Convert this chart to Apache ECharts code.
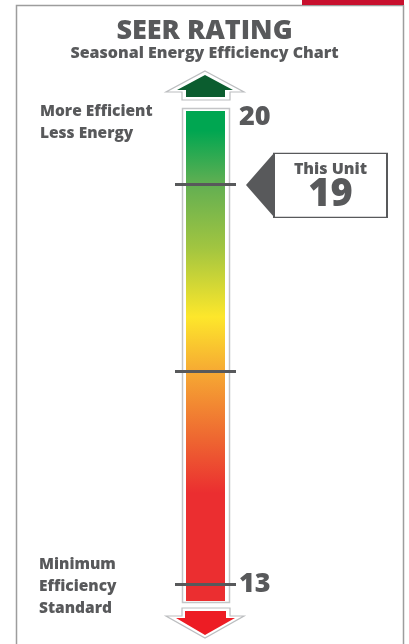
<!DOCTYPE html>
<html>
<head>
<meta charset="utf-8">
<script src="https://cdn.jsdelivr.net/npm/echarts@6/dist/echarts.min.js"></script>
<style>
  html, body { margin: 0; padding: 0; background: #fff; }
  #chart { width: 409px; height: 644px; }
</style>
</head>
<body>
<div id="chart"></div>
<script>
// scale of the meter
var scaleMin = 12.75;
var scaleMax = 20.1;
var categories = ['SEER'];
var barValues = [20.1];
var tickValues = [19, 16.2, 13];
var labelValues = [13, 20];
var unitRating = [19];

var gray = '#58595b';
var font = '"Open Sans", "Noto Sans", sans-serif';
var heavy = 800;

var myChart = echarts.init(document.getElementById('chart'));

var option = {
    backgroundColor: '#fff',
    animation: false,
    title: {
        text: 'SEER RATING',
        subtext: 'Seasonal Energy Efficiency Chart',
        left: 'center',
        top: 13,
        itemGap: 0,
        textStyle: { color: gray, fontSize: 27, fontWeight: heavy, fontFamily: font },
        subtextStyle: { color: gray, fontSize: 16, fontWeight: heavy, fontFamily: font }
    },
    grid: { left: 175, right: 173, top: 111, bottom: 43 },
    xAxis: {
        type: 'category',
        data: categories,
        show: false
    },
    yAxis: {
        type: 'value',
        position: 'right',
        min: scaleMin,
        max: scaleMax,
        startValue: scaleMin,
        axisLine: { show: false },
        axisTick: { show: false },
        splitLine: { show: false },
        axisLabel: {
            customValues: labelValues,
            margin: 3,
            color: gray,
            fontSize: 27,
            fontWeight: heavy,
            fontFamily: font
        }
    },
    graphic: [
        // frame + red tab
        { type: 'rect', z: -10, shape: { x: 16.5, y: 5.5, width: 387, height: 700 },
          style: { fill: 'none', stroke: '#9d9d9d', lineWidth: 1.5 } },
        { type: 'rect', z: -9, shape: { x: 302, y: 0, width: 102, height: 5 },
          style: { fill: '#c8102e' } },
        // outline round the bar
        { type: 'rect', z: -5, shape: { x: 182.5, y: 108.5, width: 47, height: 494 },
          style: { fill: '#fff', stroke: '#c4c5c7', lineWidth: 1.5 } },
        // up arrow
        { type: 'polygon', shape: { points: [[205,71],[244,92],[230,92],[230,100],[182,100],[182,92],[166,92]] },
          style: { fill: '#fff', stroke: '#bcbec0', lineWidth: 1.2 } },
        { type: 'polygon', shape: { points: [[205,75],[233,90],[225,90],[225,97],[186,97],[186,90],[177,90]] },
          style: { fill: '#0b5d2f' } },
        // down arrow
        { type: 'polygon', shape: { points: [[182,608],[230,608],[230,616],[244,616],[205,638],[166,616],[182,616]] },
          style: { fill: '#fff', stroke: '#bcbec0', lineWidth: 1.2 } },
        { type: 'polygon', shape: { points: [[185,611],[226,611],[226,618],[235,618],[205,635],[176,618],[185,618]] },
          style: { fill: '#ed1c24' } },
        // side notes
        { type: 'text', left: 40, top: 101,
          style: { text: 'More Efficient\nLess Energy', fill: gray, font: heavy + ' 15.5px ' + font, lineHeight: 22 } },
        { type: 'text', left: 39, top: 554,
          style: { text: 'Minimum\nEfficiency\nStandard', fill: gray, font: heavy + ' 15.5px ' + font, lineHeight: 22 } }
    ],
    series: [
        {
            type: 'bar',
            data: barValues,
            barWidth: 39,
            silent: true,
            itemStyle: {
                color: new echarts.graphic.LinearGradient(0, 0, 0, 1, [
                    { offset: 0, color: '#00a651' },
                    { offset: 0.04, color: '#00a651' },
                    { offset: 0.15, color: '#62af52' },
                    { offset: 0.28, color: '#a2c540' },
                    { offset: 0.42, color: '#fde72b' },
                    { offset: 0.53, color: '#f6aa33' },
                    { offset: 0.67, color: '#ee6631' },
                    { offset: 0.78, color: '#eb2e30' },
                    { offset: 1, color: '#eb2e30' }
                ])
            },
            markLine: {
                silent: true,
                symbol: 'none',
                label: { show: false },
                lineStyle: { color: gray, width: 3, type: 'solid' },
                data: tickValues.map(function (v) { return { yAxis: v }; })
            },
            markPoint: {
                silent: true,
                data: [
                    {
                        coord: [0, unitRating[0]],
                        symbol: 'triangle',
                        symbolSize: [64, 28],
                        symbolRotate: 90,
                        symbolOffset: [54.5, 0.7],
                        itemStyle: { color: gray },
                        label: { show: false }
                    },
                    {
                        coord: [0, unitRating[0]],
                        value: unitRating[0],
                        symbol: 'rect',
                        symbolSize: [113, 64],
                        symbolOffset: [125, 1],
                        itemStyle: { color: '#fff', borderColor: gray, borderWidth: 1.5 },
                        label: {
                            show: true,
                            position: 'inside',
                            formatter: function (p) { return '{a|This Unit}\n{b|' + p.value + '}'; },
                            rich: {
                                a: { color: gray, fontSize: 16, fontWeight: heavy, fontFamily: font, lineHeight: 20 },
                                b: { color: gray, fontSize: 38, fontWeight: heavy, fontFamily: font, lineHeight: 32 }
                            }
                        }
                    }
                ]
            }
        }
    ]
};

myChart.setOption(option);
</script>
</body>
</html>
